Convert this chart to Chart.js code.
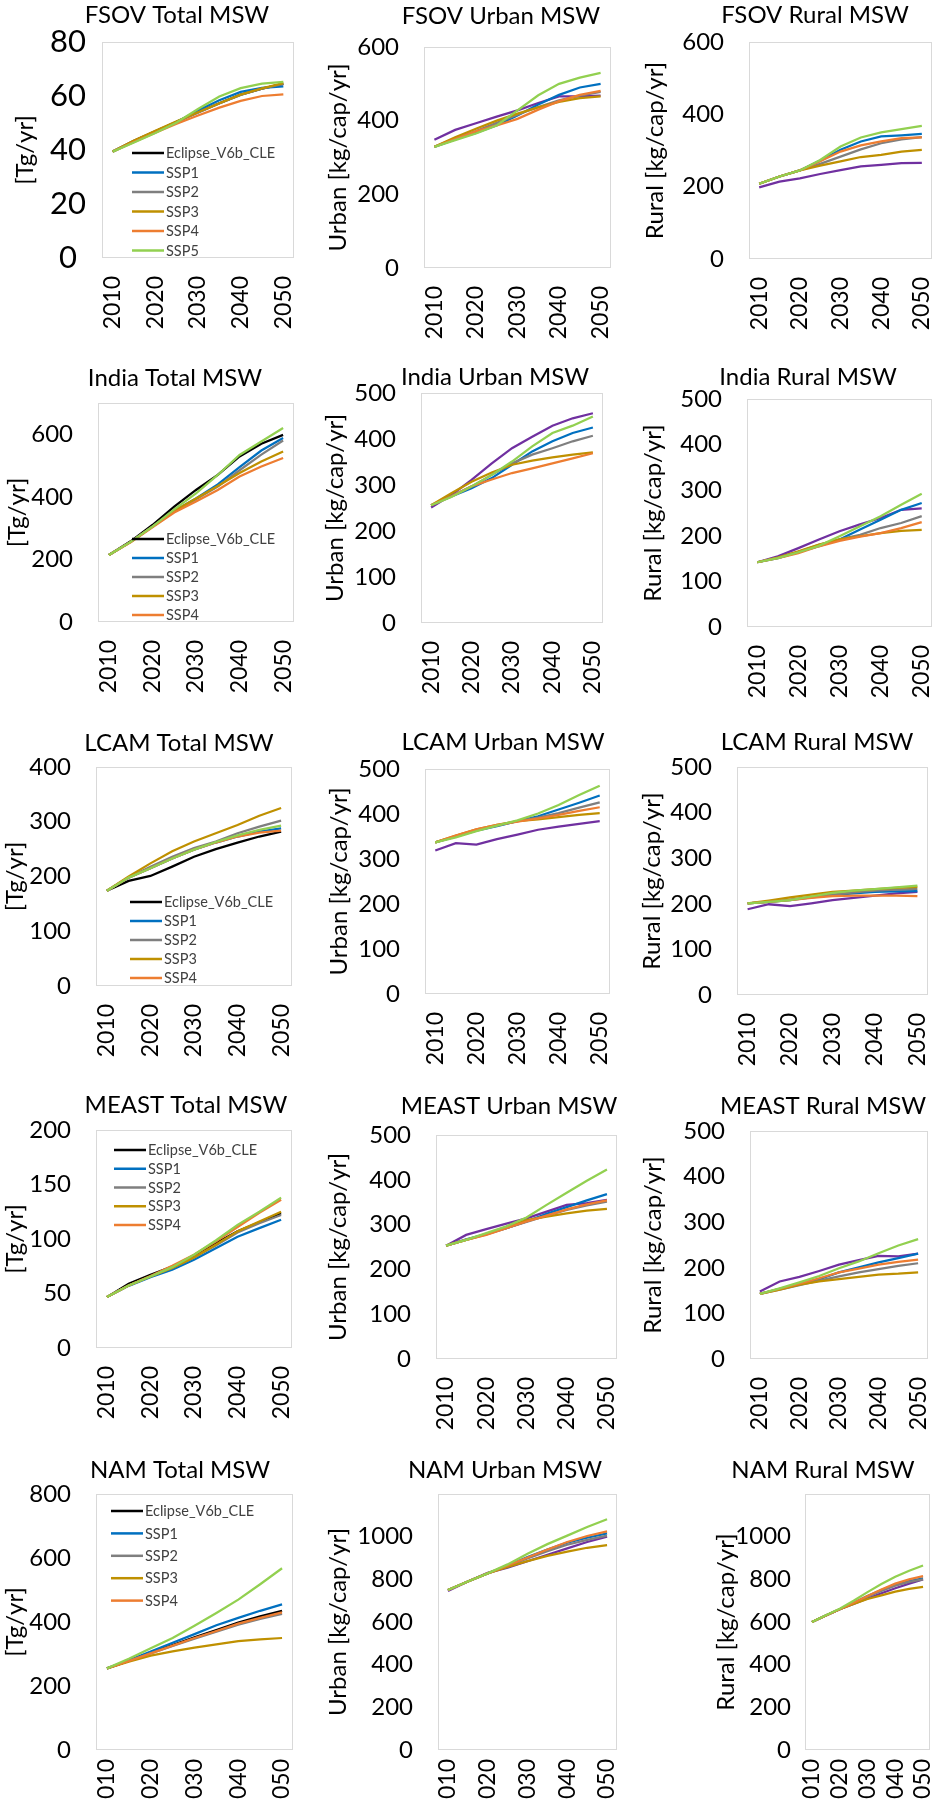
<!DOCTYPE html>
<html><head><meta charset="utf-8">
<script src="https://cdn.jsdelivr.net/npm/chart.js@4.4.0/dist/chart.umd.min.js"></script>
<style>
html,body{margin:0;padding:0;background:#fff;}
#wrap{position:relative;width:941px;height:1799px;overflow:hidden;background:#fff;}
#wrap canvas{position:absolute;}
</style></head><body><div id="wrap"></div>
<script>
// ---- categories & labels ----
const years = ['2010','2015','2020','2025','2030','2035','2040','2045','2050'];
const seriesNames = ['Eclipse_V6b_CLE','SSP1','SSP2','SSP3','SSP4','SSP5'];
const totalLabel = '[Tg/yr]';
const urbanLabel = 'Urban [kg/cap/yr]';
const ruralLabel = 'Rural [kg/cap/yr]';

// ---- data: rows = Eclipse_V6b_CLE, SSP1, SSP2, SSP3, SSP4, SSP5 ----
const fsovTotal = [
  [39.4, 43.4, 46.9, 50.5, 54.0, 57.3, 60.5, 62.7, 64.5],
  [39.4, 43.2, 46.7, 50.4, 54.6, 58.4, 61.5, 63.0, 63.6],
  [39.4, 43.3, 46.9, 50.4, 53.8, 57.2, 60.4, 62.7, 64.5],
  [39.4, 43.5, 47.1, 50.6, 54.0, 57.3, 60.5, 62.8, 64.8],
  [39.4, 43.0, 46.4, 49.7, 52.8, 55.7, 58.2, 60.0, 60.6],
  [39.4, 42.8, 46.3, 50.2, 55.2, 59.8, 62.9, 64.6, 65.2]
];
const fsovUrban = [
  [348, 375, 393, 411, 428, 448, 466, 466, 468],
  [329, 349, 367, 388, 414, 444, 470, 490, 500],
  [329, 352, 372, 394, 416, 437, 455, 468, 478],
  [329, 355, 378, 400, 419, 436, 451, 461, 466],
  [329, 350, 371, 387, 405, 430, 453, 470, 481],
  [329, 347, 365, 387, 428, 469, 500, 517, 530]
];
const fsovRural = [
  [198, 214, 223, 235, 246, 256, 260, 265, 266],
  [208, 228, 245, 272, 302, 325, 339, 342, 346],
  [208, 228, 245, 263, 283, 303, 320, 331, 337],
  [208, 228, 245, 258, 270, 282, 288, 297, 302],
  [208, 228, 245, 270, 297, 314, 325, 334, 336],
  [208, 228, 245, 274, 311, 336, 350, 359, 368]
];
const indiaTotal = [
  [214, 258, 310, 369, 422, 470, 529, 570, 598],
  [214, 256, 305, 355, 395, 440, 495, 548, 588],
  [214, 256, 305, 355, 392, 433, 485, 535, 580],
  [214, 256, 305, 355, 395, 435, 476, 513, 545],
  [214, 255, 303, 350, 385, 422, 465, 497, 524],
  [214, 256, 305, 360, 411, 470, 534, 577, 620]
];
const indiaUrban = [
  [251, 278, 311, 347, 380, 405, 429, 445, 456],
  [256, 275, 293, 315, 344, 373, 395, 413, 425],
  [256, 276, 297, 322, 347, 366, 380, 395, 407],
  [256, 282, 307, 327, 344, 353, 360, 366, 371],
  [256, 275, 297, 312, 326, 336, 347, 358, 369],
  [256, 274, 297, 322, 351, 384, 413, 429, 449]
];
const indiaRural = [
  [142, 155, 173, 192, 210, 225, 239, 257, 260],
  [142, 151, 164, 177, 192, 214, 235, 257, 272],
  [142, 152, 165, 180, 192, 202, 217, 228, 243],
  [142, 152, 166, 181, 192, 199, 206, 211, 213],
  [142, 151, 162, 177, 189, 198, 206, 217, 230],
  [142, 151, 164, 178, 199, 221, 243, 268, 292]
];
const lcamTotal = [
  [174, 192, 201, 218, 236, 250, 262, 273, 282],
  [174, 198, 215, 233, 249, 262, 273, 282, 288],
  [174, 198, 218, 236, 252, 264, 279, 291, 302],
  [174, 200, 224, 246, 264, 279, 294, 311, 325],
  [174, 198, 215, 233, 249, 262, 273, 280, 284],
  [174, 198, 215, 233, 249, 263, 275, 285, 293]
];
const lcamUrban = [
  [319, 335, 332, 344, 354, 365, 372, 378, 384],
  [337, 350, 363, 373, 384, 395, 410, 425, 441],
  [337, 350, 364, 374, 384, 392, 402, 414, 426],
  [337, 352, 366, 376, 384, 388, 393, 398, 402],
  [337, 352, 366, 376, 383, 390, 398, 407, 415],
  [337, 348, 362, 374, 386, 401, 420, 442, 463]
];
const lcamRural = [
  [188, 199, 195, 201, 208, 213, 218, 223, 226],
  [201, 204, 208, 214, 219, 223, 226, 227, 228],
  [201, 204, 209, 215, 220, 225, 229, 231, 233],
  [201, 207, 214, 220, 226, 229, 232, 235, 237],
  [201, 204, 208, 213, 217, 218, 218, 218, 217],
  [201, 204, 208, 216, 224, 229, 232, 236, 240]
];
const meastTotal = [
  [46.7, 58.9, 67.2, 74.8, 84.9, 96.2, 107, 115.4, 123.7],
  [46.7, 57.0, 65.0, 71.8, 80.9, 91.6, 102, 110, 117.6],
  [46.7, 57.4, 65.6, 73.5, 83.0, 94.0, 106, 114.5, 122],
  [46.7, 57.4, 65.6, 73.5, 83.0, 94.7, 107, 116, 125],
  [46.7, 57.4, 66.0, 75.4, 85.5, 97.7, 111, 124, 136],
  [46.7, 57.4, 65.6, 74.2, 85.5, 98.6, 113, 125, 138]
];
const meastUrban = [
  [253, 277, 290, 302, 314, 329, 344, 348, 355],
  [253, 267, 279, 292, 307, 324, 339, 354, 368],
  [253, 266, 278, 292, 306, 320, 333, 343, 351],
  [253, 266, 279, 294, 310, 318, 325, 331, 335],
  [253, 266, 277, 292, 307, 320, 334, 345, 354],
  [253, 266, 281, 296, 316, 344, 371, 398, 423]
];
const meastRural = [
  [148, 170, 180, 193, 207, 217, 226, 225, 231],
  [143, 154, 165, 175, 190, 201, 212, 221, 231],
  [143, 152, 162, 172, 181, 190, 197, 204, 210],
  [143, 152, 163, 170, 175, 180, 185, 187, 190],
  [143, 154, 165, 177, 190, 198, 207, 213, 218],
  [143, 155, 168, 182, 199, 214, 232, 249, 263]
];
const namTotal = [
  [255, 278, 305, 328, 352, 375, 398, 418, 435],
  [255, 280, 308, 335, 362, 390, 413, 435, 455],
  [255, 278, 302, 325, 348, 370, 392, 410, 425],
  [255, 276, 295, 308, 320, 330, 340, 346, 350],
  [255, 278, 302, 326, 350, 372, 395, 413, 430],
  [255, 285, 318, 350, 388, 428, 470, 518, 568]
];
const namUrban = [
  [745, 790, 830, 855, 885, 915, 945, 975, 1000],
  [750, 790, 828, 865, 905, 940, 972, 995, 1015],
  [750, 790, 828, 862, 898, 932, 962, 985, 1005],
  [750, 790, 828, 858, 885, 910, 930, 948, 960],
  [750, 790, 828, 865, 902, 940, 975, 1003, 1025],
  [750, 790, 828, 870, 920, 965, 1005, 1045, 1082]
];
const namRural = [
  [600, 630, 660, 685, 710, 735, 758, 780, 800],
  [600, 630, 660, 690, 722, 750, 775, 792, 805],
  [600, 630, 660, 688, 718, 745, 770, 788, 800],
  [600, 630, 660, 685, 708, 725, 742, 755, 765],
  [600, 630, 660, 690, 722, 752, 780, 800, 815],
  [600, 632, 662, 700, 740, 778, 812, 840, 865]
];

// ---- styling / layout (not data) ----
const FONT = 'Lato';
const SSP_COLORS = ['#0070C0', '#7F7F7F', '#BF9000', '#ED7D31', '#92D050'];
const colLeft = [0, 310, 625];
const rowTop = [0, 340, 710, 1080, 1440];
const rowBottom = [340, 710, 1080, 1440, 1799];

const panels = [
  {d: fsovTotal,  t: 'FSOV Total MSW',  yl: totalLabel, r:0, c:0, box:[102,42,294,258],  tx:177, ty:15,  yx:25,  max:80,  step:20, tf:31, tc:true, tp:16, lg:{x:132,y:153,sp:19.5,n:6}},
  {d: fsovUrban,  t: 'FSOV Urban MSW',  yl: urbanLabel, r:0, c:1, box:[424,47,611,268],  tx:501, ty:16,  yx:338, max:600, step:200},
  {d: fsovRural,  t: 'FSOV Rural MSW',  yl: ruralLabel, r:0, c:2, box:[749,42,932,259],  tx:815, ty:15,  yx:655, max:600, step:200},
  {d: indiaTotal, t: 'India Total MSW', yl: totalLabel, r:1, c:0, box:[98,403,294,622],  tx:175, ty:378, yx:17,  max:700, step:200, lg:{x:132,y:539,sp:19,n:5}},
  {d: indiaUrban, t: 'India Urban MSW', yl: urbanLabel, r:1, c:1, box:[421,393,603,623], tx:495, ty:377, yx:335, max:500, step:100},
  {d: indiaRural, t: 'India Rural MSW', yl: ruralLabel, r:1, c:2, box:[747,399,932,627], tx:808, ty:377, yx:653, max:500, step:100},
  {d: lcamTotal,  t: 'LCAM Total MSW',  yl: totalLabel, r:2, c:0, box:[96,767,292,986],  tx:179, ty:743, yx:15,  max:400, step:100, lg:{x:130,y:902,sp:19,n:5}},
  {d: lcamUrban,  t: 'LCAM Urban MSW',  yl: urbanLabel, r:2, c:1, box:[425,769,610,994], tx:503, ty:742, yx:339, max:500, step:100},
  {d: lcamRural,  t: 'LCAM Rural MSW',  yl: ruralLabel, r:2, c:2, box:[737,767,928,995], tx:817, ty:742, yx:652, max:500, step:100},
  {d: meastTotal, t: 'MEAST Total MSW', yl: totalLabel, r:3, c:0, box:[96,1130,292,1348], tx:186, ty:1105, yx:15, max:200, step:50, lg:{x:114,y:1150,sp:18.75,n:5}},
  {d: meastUrban, t: 'MEAST Urban MSW', yl: urbanLabel, r:3, c:1, box:[436,1135,617,1359], tx:509, ty:1106, yx:338, max:500, step:100},
  {d: meastRural, t: 'MEAST Rural MSW', yl: ruralLabel, r:3, c:2, box:[750,1131,928,1359], tx:823, ty:1106, yx:653, max:500, step:100},
  {d: namTotal,   t: 'NAM Total MSW',   yl: totalLabel, r:4, c:0, box:[96,1494,293,1750], tx:180, ty:1470, yx:15,  max:800, step:200, xp:9, lg:{x:111,y:1511,sp:22.4,n:5}},
  {d: namUrban,   t: 'NAM Urban MSW',   yl: urbanLabel, r:4, c:1, box:[438,1494,617,1750], tx:505, ty:1470, yx:338, max:1200, step:200, top:1000, xp:9},
  {d: namRural,   t: 'NAM Rural MSW',   yl: ruralLabel, r:4, c:2, box:[805,1494,930,1750], tx:823, ty:1470, yx:726, max:1200, step:200, top:1000, xp:9, tp:14}
];

const panelDecor = {
  id: 'panelDecor',
  afterLayout(chart, args, opts) {
    // centre the title where the source figure has it
    const tb = chart.titleBlock;
    if (tb && opts && opts.tx !== undefined) {
      const half = Math.min(opts.tx, chart.width - opts.tx);
      tb.left = opts.tx - half;
      tb.right = opts.tx + half;
      tb.width = 2 * half;
    }
  },
  beforeDatasetsDraw(chart) {
    const {ctx, chartArea: a} = chart;
    ctx.save();
    ctx.strokeStyle = '#D9D9D9';
    ctx.lineWidth = 1;
    ctx.strokeRect(Math.round(a.left) + 0.5, Math.round(a.top) + 0.5,
                   Math.round(a.right - a.left) - 1, Math.round(a.bottom - a.top) - 1);
    ctx.restore();
  },
  afterDraw(chart, args, opts) {
    if (!opts || !opts.legend) return;
    const lg = opts.legend;
    const ctx = chart.ctx;
    const ds = chart.data.datasets;
    ctx.save();
    ctx.font = '14.5px ' + FONT;
    ctx.textBaseline = 'middle';
    ctx.textAlign = 'left';
    for (let i = 0; i < lg.n; i++) {
      const y = lg.y + i * lg.sp;
      ctx.strokeStyle = ds[i].borderColor;
      ctx.lineWidth = 2.5;
      ctx.beginPath();
      ctx.moveTo(lg.x, y);
      ctx.lineTo(lg.x + 32, y);
      ctx.stroke();
      ctx.fillStyle = '#404040';
      ctx.fillText(ds[i].label, lg.x + 34, y + 0.5);
    }
    ctx.restore();
  }
};

const wrap = document.getElementById('wrap');

panels.forEach((p) => {
  const L = colLeft[p.c], T = rowTop[p.r];
  const [x1, y1, x2, y2] = p.box;
  const W = x2 - L + 6;
  const H = rowBottom[p.r] - T;
  const canvas = document.createElement('canvas');
  canvas.width = W; canvas.height = H;
  canvas.style.left = L + 'px'; canvas.style.top = T + 'px';
  canvas.style.width = W + 'px'; canvas.style.height = H + 'px';
  wrap.appendChild(canvas);

  const isTotal = p.yl === totalLabel;
  const colors = [isTotal ? '#000000' : '#7030A0'].concat(SSP_COLORS);
  const datasets = p.d.map((vals, i) => ({
    label: seriesNames[i],
    data: vals,
    borderColor: colors[i],
    backgroundColor: colors[i],
    borderWidth: 2.25,
    pointRadius: 0,
    pointHoverRadius: 0,
    tension: 0,
    fill: false,
    order: p.d.length - i
  }));

  const titleLH = 24 * 1.2;
  const titleTop = p.ty - T - titleLH / 2;
  const titleBottom = (y1 - T) - titleTop - titleLH;
  const legendOpts = p.lg ? {x: p.lg.x - L, y: p.lg.y - T, sp: p.lg.sp, n: p.lg.n} : null;
  const topLabel = p.top || p.max;

  new Chart(canvas, {
    type: 'line',
    data: {labels: years, datasets},
    options: {
      responsive: false,
      animation: false,
      devicePixelRatio: 1,
      events: [],
      layout: {autoPadding: false, padding: {top: 0, left: 0, right: 6, bottom: 0}},
      plugins: {
        legend: {display: false},
        tooltip: {enabled: false},
        title: {
          display: true, text: p.t, color: '#000',
          font: {family: FONT, size: 24, weight: 'normal'},
          padding: {top: titleTop, bottom: titleBottom}
        },
        panelDecor: {legend: legendOpts, tx: p.tx - L}
      },
      scales: {
        x: {
          type: 'category',
          offset: true,
          grid: {display: false, drawTicks: false},
          border: {display: false},
          ticks: {
            autoSkip: false, maxRotation: 90, minRotation: 90, padding: p.xp || 18,
            color: '#000', font: {family: FONT, size: 23},
            callback: (v, i) => (i % 2 === 0 ? years[i] : '')
          },
          afterFit: (s) => { s.height = rowBottom[p.r] - y2; s.paddingLeft = 0; s.paddingRight = 0; }
        },
        y: {
          min: 0, max: p.max,
          grid: {display: false, drawTicks: false},
          border: {display: false},
          ticks: {
            stepSize: p.step, includeBounds: false, padding: p.tp || 25,
            crossAlign: p.tc ? 'center' : 'near',
            color: '#000', font: {family: FONT, size: p.tf || 24},
            callback: (v) => (v > topLabel ? '' : String(v))
          },
          title: {
            display: true, text: p.yl, color: '#000',
            font: {family: FONT, size: 24},
            padding: {top: p.yx - L - 14.4, bottom: 0}
          },
          afterFit: (s) => { s.width = x1 - L; s.paddingTop = 0; s.paddingBottom = 0; }
        }
      }
    },
    plugins: [panelDecor]
  });
});
</script>
</body></html>
